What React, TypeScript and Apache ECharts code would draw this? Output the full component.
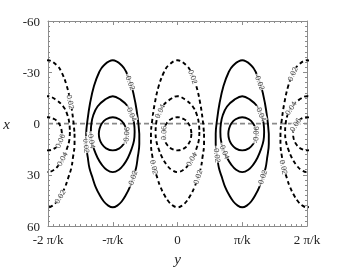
import React, { useEffect, useRef } from 'react';
import * as echarts from 'echarts';

// horizontal axis ("y") ticks, in units of π/k
const xTickValues = [-2, -1, 0, 1, 2];
const xTickLabels = ['-2 π/k', '-π/k', '0', 'π/k', '2 π/k'];

// contour cells: centre (π/k units) and sign of the field there
const cellCenters = [-2, -1, 0, 1, 2];
const cellSigns = [1, -1, 1, -1, 1];
const levels = [0.02, 0.04, 0.06];

// contour half-width (π/k units) read at several x, from the top tip to the bottom tip
const shape002 = [[-37, 0], [-34, 0.14], [-30, 0.21], [-22, 0.29], [-12, 0.35], [-2, 0.39], [6, 0.41], [12, 0.41], [20, 0.385], [26, 0.36], [32, 0.31], [37, 0.265], [42, 0.2], [45.6, 0.138], [48, 0.07], [49, 0]];
const shape004 = [[-16, 0], [-14, 0.12], [-10, 0.235], [-5, 0.3], [0, 0.33], [5, 0.338], [10, 0.328], [15, 0.29], [20, 0.235], [24, 0.17], [27, 0.095], [28.4, 0]];
const shape006 = [[-3.7, 0], [-2.5, 0.103], [0, 0.169], [3, 0.204], [6, 0.215], [9, 0.204], [12, 0.169], [14.5, 0.103], [15.7, 0]];
const shapes = [shape002, shape004, shape006];

// contour labels: [cell centre, level, side, x]
const labelSpots: [number, number, string, number][] = [
  [-2, 0.02, 'r', -12.7], [-2, 0.04, 'r', 20.8], [-2, 0.06, 'r', 10.2], [-2, 0.02, 'r', 42.8],
  [-1, 0.02, 'r', -24.4], [-1, 0.04, 'r', -6], [-1, 0.06, 'r', 7], [-1, 0.02, 'l', 12.3], [-1, 0.04, 'l', 9.5], [-1, 0.02, 'r', 32.4],
  [0, 0.02, 'r', -27.3], [0, 0.04, 'l', -7.2], [0, 0.06, 'l', 5.5], [0, 0.02, 'l', 25.5], [0, 0.04, 'r', 21], [0, 0.02, 'r', 31.3],
  [1, 0.02, 'r', -24.4], [1, 0.04, 'r', -6], [1, 0.06, 'r', 6.6], [1, 0.02, 'l', 17.9], [1, 0.04, 'l', 16], [1, 0.02, 'r', 32],
  [2, 0.02, 'l', -29], [2, 0.04, 'l', -8.9], [2, 0.06, 'l', 0.7], [2, 0.02, 'l', 25.5],
];

function widthAt(s: number[][], x: number): number {
  if (x <= s[0][0]) return s[0][1];
  for (let i = 1; i < s.length; i++) {
    if (x <= s[i][0]) {
      const t = (x - s[i - 1][0]) / (s[i][0] - s[i - 1][0]);
      return s[i - 1][1] + t * (s[i][1] - s[i - 1][1]);
    }
  }
  return s[s.length - 1][1];
}

function contourPath(c: number, s: number[][]): number[][] {
  const right = s.map(([x, w]) => [c + w, x]);
  const left = s.slice(1, -1).reverse().map(([x, w]) => [c - w, x]);
  const loop = [...right, ...left];
  let k = 0;
  s.forEach(([, w], i) => { if (w > s[k][1]) k = i; });
  const rot = [...loop.slice(k), ...loop.slice(0, k)];
  rot.push(rot[0]);
  return rot;
}

const serif = 'Liberation Serif';

export default function App() {
  const ref = useRef<HTMLDivElement>(null);
  useEffect(() => {
    const chart = echarts.init(ref.current!, null, { renderer: 'svg' });
    const series: any[] = [];
    cellCenters.forEach((c, ci) => {
      shapes.forEach((s) => {
        series.push({
          type: 'line',
          data: contourPath(c, s),
          symbol: 'none',
          smooth: 0.4,
          silent: true,
          z: 3,
          lineStyle: { color: '#000', width: 1.9, type: cellSigns[ci] > 0 ? [4, 3] : 'solid' },
        });
      });
    });
    series.push({
      type: 'line',
      data: [[-2, 0], [2, 0]],
      symbol: 'none',
      silent: true,
      z: 2,
      lineStyle: { color: '#8a8a8a', width: 1.8, type: [5, 3] },
    });
    const axisCommon = {
      axisLine: { show: true, onZero: false, lineStyle: { color: '#8c8c8c', width: 1 } },
      axisTick: { show: true, inside: true, length: 4, lineStyle: { color: '#8c8c8c' } },
      splitLine: { show: false },
    };
    const option: any = {
      animation: false,
      grid: { left: 48, top: 21, right: 32, bottom: 41 },
      xAxis: [
        {
          type: 'value', min: -2, max: 2, interval: 1, position: 'bottom',
          ...axisCommon,
          minorTick: { show: true, splitNumber: 12, length: 2, lineStyle: { color: '#8c8c8c' } },
          axisLabel: {
            fontFamily: serif, fontSize: 13, color: '#222', margin: 7,
            formatter: (v: number) => xTickLabels[xTickValues.indexOf(Math.round(v))] ?? '',
          },
          name: 'y', nameLocation: 'middle', nameGap: 24,
          nameTextStyle: { fontFamily: serif, fontStyle: 'italic', fontSize: 15, color: '#222' },
        },
        {
          type: 'value', min: -2, max: 2, interval: 1, position: 'top',
          ...axisCommon,
          minorTick: { show: true, splitNumber: 12, length: 2, lineStyle: { color: '#8c8c8c' } },
          axisLabel: { show: false },
        },
      ],
      yAxis: [
        {
          type: 'value', min: -60, max: 60, interval: 30, inverse: true, position: 'left',
          ...axisCommon,
          minorTick: { show: true, splitNumber: 10, length: 2, lineStyle: { color: '#8c8c8c' } },
          axisLabel: { fontFamily: serif, fontSize: 13, color: '#222', margin: 8 },
          name: 'x', nameLocation: 'middle', nameGap: 38, nameRotate: 0,
          nameTextStyle: { fontFamily: serif, fontStyle: 'italic', fontSize: 15, color: '#222' },
        },
        {
          type: 'value', min: -60, max: 60, interval: 30, inverse: true, position: 'right',
          ...axisCommon,
          minorTick: { show: true, splitNumber: 10, length: 2, lineStyle: { color: '#8c8c8c' } },
          axisLabel: { show: false },
        },
      ],
      series,
    };
    chart.setOption(option);

    const labelData = labelSpots.map(([c, lvl, side, x]) => {
      const s = shapes[levels.indexOf(lvl)];
      const sign = cellSigns[cellCenters.indexOf(c)];
      const lo = s[0][0];
      const hi = s[s.length - 1][0];
      const sx = side === 'r' ? 1 : -1;
      const pt = (xx: number) => [c + sx * widthAt(s, xx), xx];
      const a = chart.convertToPixel({ xAxisIndex: 0, yAxisIndex: 0 }, pt(Math.max(lo, x - 2))) as number[];
      const b = chart.convertToPixel({ xAxisIndex: 0, yAxisIndex: 0 }, pt(Math.min(hi, x + 2))) as number[];
      let ang = (Math.atan2(-(b[1] - a[1]), b[0] - a[0]) * 180) / Math.PI;
      if (ang > 90) ang -= 180;
      if (ang < -90) ang += 180;
      return {
        value: pt(x),
        label: { rotate: ang, formatter: (sign < 0 ? '-' : '') + lvl.toFixed(2) },
      };
    });
    series.push({
      type: 'scatter',
      data: labelData,
      symbolSize: 1,
      silent: true,
      z: 6,
      itemStyle: { color: 'rgba(0,0,0,0)' },
      label: {
        show: true, position: 'inside', fontSize: 7.5, fontFamily: 'Liberation Sans',
        color: '#222', backgroundColor: '#fff', padding: [0, 0],
      },
    });
    chart.setOption({ series });
    return () => chart.dispose();
  }, []);
  return <div ref={ref} style={{ position: 'fixed', left: 0, top: 0, width: 339, height: 271 }} />;
}
